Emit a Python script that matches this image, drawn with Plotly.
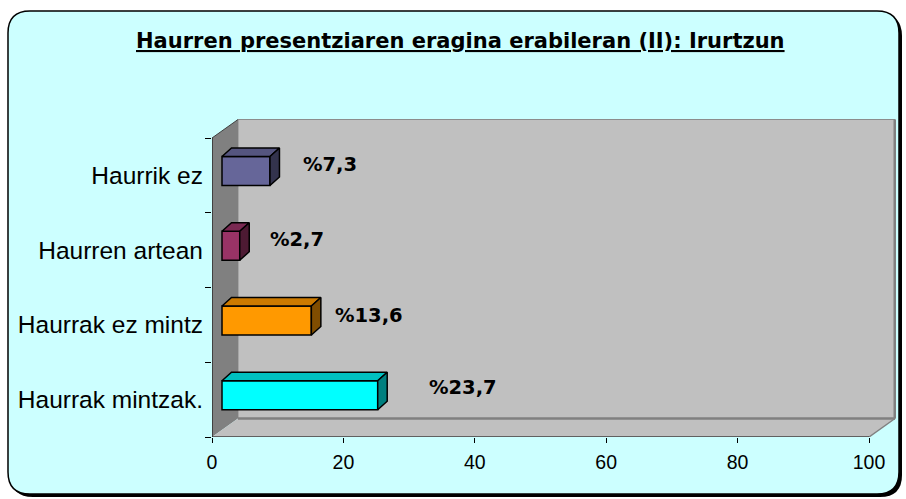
import plotly.graph_objects as go

# ---- data ---------------------------------------------------------------
categories = ["Haurrik ez", "Haurren artean", "Haurrak ez mintz", "Haurrak mintzak."]
values = [7.3, 2.7, 13.6, 23.7]
x_ticks = [0, 20, 40, 60, 80, 100]
title_text = "Haurren presentziaren eragina erabileran (II): Irurtzun"

# ---- styles -------------------------------------------------------------
front_colors = ["#666699", "#993366", "#FF9900", "#00FFFF"]
top_colors = ["#55557F", "#7A2952", "#CC7A00", "#00C0C0"]
side_colors = ["#33334D", "#4D1A33", "#804D00", "#008080"]
label_xshift = [60, 57, 58, 85]     # px nudges of the value labels
label_yshift = [11, 11, 9, 12]

W, H = 906, 499
ML, MR, MT, MB = 212, 10, 119, 62          # plot-area margins (px)
PX_PER_X = (869 - 212) / 100               # px per value unit
BAND_PX = (437 - 138) / 4                  # px per category band
PW, PH = W - ML - MR, H - MT - MB
X_MAX = PW / PX_PER_X
Y_MAX = PH / BAND_PX

DX = 26 / PX_PER_X                         # 3-D depth of the walls
DY = 18.5 / BAND_PX
BAR_X0 = 10 / PX_PER_X                     # bar front face offset
BAR_YOFF = 4.4 / BAND_PX
BAR_H = 29 / BAND_PX
BDX = 9.5 / PX_PER_X                       # bar depth
BDY = 8.5 / BAND_PX

n = len(categories)
centers = [n - 1 - k + 0.5 for k in range(n)]


def poly(pts):
    return "M " + " L ".join(f"{x},{y}" for x, y in pts) + " Z"


def px2paper(px, py):
    return (px - ML) / PW, (H - MB - py) / PH


def rounded_rect(x0, y0, x1, y1, r):
    p = lambda x, y: "{:.5f},{:.5f}".format(*px2paper(x, y))
    return (f"M {p(x0 + r, y0)} L {p(x1 - r, y0)} Q {p(x1, y0)} {p(x1, y0 + r)} "
            f"L {p(x1, y1 - r)} Q {p(x1, y1)} {p(x1 - r, y1)} "
            f"L {p(x0 + r, y1)} Q {p(x0, y1)} {p(x0, y1 - r)} "
            f"L {p(x0, y0 + r)} Q {p(x0, y0)} {p(x0 + r, y0)} Z")


shapes = [
    # chart frame with shadow
    dict(type="path", xref="paper", yref="paper", layer="below",
         path=rounded_rect(11, 14, 902, 497, 22), fillcolor="black", line=dict(width=0)),
    dict(type="path", xref="paper", yref="paper", layer="below",
         path=rounded_rect(8, 11, 899, 494, 22), fillcolor="#CCFFFF",
         line=dict(color="black", width=1.5)),
    # back wall
    dict(type="path", xref="x", yref="y", layer="below",
         path=poly([(DX, DY), (100 + DX, DY), (100 + DX, 4 + DY), (DX, 4 + DY)]),
         fillcolor="#C0C0C0", line=dict(color="#8C8C8C", width=1)),
    # left wall
    dict(type="path", xref="x", yref="y", layer="below",
         path=poly([(0, 0), (DX, DY), (DX, 4 + DY), (0, 4)]),
         fillcolor="#808080", line=dict(width=0)),
    # floor
    dict(type="path", xref="x", yref="y", layer="below",
         path=poly([(0, 0), (100, 0), (100 + DX, DY), (DX, DY)]),
         fillcolor="#C0C0C0", line=dict(width=0)),
    # wall edges
    dict(type="line", xref="x", yref="y", layer="below", x0=DX, y0=DY, x1=100 + DX, y1=DY,
         line=dict(color="#808080", width=2.5)),
    dict(type="line", xref="x", yref="y", layer="below", x0=100 + DX, y0=DY, x1=100 + DX, y1=4 + DY,
         line=dict(color="#808080", width=3)),
    dict(type="line", xref="x", yref="y", layer="below", x0=100, y0=0, x1=100 + DX, y1=DY,
         line=dict(color="#808080", width=1.5)),
    dict(type="line", xref="x", yref="y", layer="below", x0=0, y0=4, x1=DX, y1=4 + DY,
         line=dict(color="#404040", width=1)),
    # front axis lines
    dict(type="line", xref="x", yref="y", layer="below", x0=0, y0=0, x1=100, y1=0,
         line=dict(color="black", width=1)),
    dict(type="line", xref="x", yref="y", layer="below", x0=0, y0=0, x1=0, y1=4,
         line=dict(color="black", width=1)),
]

fig = go.Figure()

# front faces of the bars
bar_y = [c + BAR_YOFF for c in centers]
fig.add_trace(go.Bar(
    orientation="h", x=values, y=bar_y, base=BAR_X0, width=BAR_H,
    marker=dict(color=front_colors, line=dict(color="black", width=1.5)),
    hoverinfo="skip", showlegend=False,
))

# top and side faces
for v, yc, ct, cs in zip(values, bar_y, top_colors, side_colors):
    x0, x1 = BAR_X0, BAR_X0 + v
    yt, yb = yc + BAR_H / 2, yc - BAR_H / 2
    top = [(x0, yt), (x1, yt), (x1 + BDX, yt + BDY), (x0 + BDX, yt + BDY), (x0, yt)]
    side = [(x1, yb), (x1, yt), (x1 + BDX, yt + BDY), (x1 + BDX, yb + BDY), (x1, yb)]
    for pts, col in ((top, ct), (side, cs)):
        fig.add_trace(go.Scatter(
            x=[p[0] for p in pts], y=[p[1] for p in pts], mode="lines",
            fill="toself", fillcolor=col, line=dict(color="black", width=1.5),
            hoverinfo="skip", showlegend=False,
        ))

# value labels
annotations = []
for v, yc, xs, ys in zip(values, centers, label_xshift, label_yshift):
    annotations.append(dict(
        x=BAR_X0 + v, y=yc, xref="x", yref="y", showarrow=False,
        text=("%" + f"{v:.1f}".replace(".", ",")),
        xanchor="center", yanchor="middle", xshift=xs, yshift=ys,
        font=dict(family="DejaVu Sans", size=19.5, color="black", weight="bold"),
    ))

# title
tx, ty = px2paper(460.5, 41)
annotations.append(dict(
    x=tx, y=ty, xref="paper", yref="paper", showarrow=False,
    text=title_text, xanchor="center", yanchor="middle",
    font=dict(family="DejaVu Sans", size=21, color="black", weight="bold",
              lineposition="under"),
))

fig.update_layout(
    width=W, height=H,
    margin=dict(l=ML, r=MR, t=MT, b=MB, pad=0),
    paper_bgcolor="white", plot_bgcolor="rgba(0,0,0,0)",
    shapes=shapes, annotations=annotations, showlegend=False,
    xaxis=dict(
        range=[0, X_MAX], tickmode="array", tickvals=x_ticks,
        ticktext=[str(t) for t in x_ticks],
        ticks="outside", ticklen=5, tickcolor="black", tickwidth=1,
        ticklabelstandoff=3,
        showgrid=False, zeroline=False, showline=False, fixedrange=True,
        tickfont=dict(family="Liberation Sans, Arial", size=19.5, color="black"),
    ),
    yaxis=dict(
        range=[0, Y_MAX], tickmode="array", tickvals=centers, ticktext=categories,
        ticks="", showgrid=False, zeroline=False, showline=False, fixedrange=True,
        ticklabelstandoff=8,
        tickfont=dict(family="Liberation Sans, Arial", size=24.5, color="black"),
        minor=dict(tickmode="array", tickvals=[0, 1, 2, 3, 4], ticks="outside",
                   ticklen=6, tickcolor="black", tickwidth=1, showgrid=False),
    ),
)

fig.write_html("out.html")
